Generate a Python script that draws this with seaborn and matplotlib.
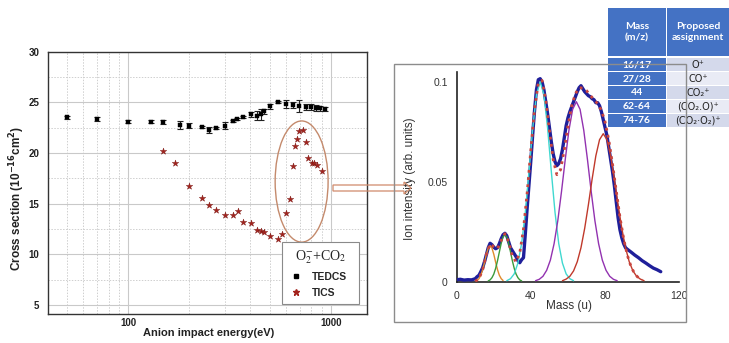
import numpy as np
import pandas as pd
import matplotlib
matplotlib.use("Agg")
import matplotlib.pyplot as plt
import seaborn as sns
from matplotlib.patches import Ellipse, Rectangle, FancyArrow
from matplotlib.lines import Line2D
from matplotlib.ticker import FixedLocator, MultipleLocator, FuncFormatter, NullFormatter
from matplotlib.font_manager import FontProperties

# ---------------- data: left panel (cross sections) ----------------
tedcs_energy = [50, 70, 100, 130, 149, 180, 200, 230, 250, 271, 300, 330, 345, 369,
                401, 430, 450, 469, 500, 545, 600, 647, 698, 753, 797, 843, 883, 934]
tedcs_sigma = [23.55, 23.4, 23.1, 23.1, 23.05, 22.8, 22.7, 22.6, 22.3, 22.5, 22.7, 23.15,
               23.35, 23.6, 23.8, 23.7, 23.8, 24.1, 24.6, 25.0, 24.8, 24.7, 24.6, 24.5,
               24.5, 24.45, 24.4, 24.3]
tedcs_err = [0.15, 0.2, 0.15, 0.15, 0.2, 0.4, 0.25, 0.1, 0.3, 0.1, 0.35, 0.1, 0.1, 0.1,
             0.2, 0.45, 0.5, 0.25, 0.25, 0.1, 0.4, 0.3, 0.6, 0.3, 0.3, 0.3, 0.25, 0.2]

tics_energy = [149, 170, 200, 230, 250, 271, 300, 330, 348, 369, 401, 430, 450, 469, 500,
               550, 571, 600, 628, 647, 665, 680, 698, 731, 753, 773, 804, 826, 849, 900]
tics_sigma = [20.2, 19.0, 16.7, 15.6, 14.9, 14.4, 13.9, 13.85, 14.25, 13.2, 13.05, 12.35,
              12.25, 12.2, 11.8, 11.5, 12.0, 14.05, 15.45, 18.7, 20.7, 21.4, 22.2, 22.3,
              21.1, 19.5, 19.0, 19.0, 18.85, 18.2]

# ---------------- data: right panel (mass spectrum) ----------------
spec_mass = [0, 2, 4, 6, 8, 10, 11, 12, 13, 14, 15, 16, 17, 18, 19, 20, 21, 22, 23, 24, 25,
             26, 27, 28, 29, 30, 31, 32, 33, 34, 35, 36, 37, 38, 39, 40, 41, 42, 43, 44, 45,
             46, 47, 48, 49, 50, 51, 52, 53, 54, 55, 56, 57, 58, 59, 60, 61, 62, 63, 64, 65,
             66, 67, 68, 69, 70, 71, 72, 73, 74, 75, 76, 77, 78, 79, 80, 81, 82, 83, 84, 85,
             86, 87, 88, 89, 90, 91, 92, 94, 96, 98, 100, 102, 104, 106, 108, 110]
spec_int = [0.0010, 0.0012, 0.0008, 0.0010, 0.0009, 0.0015, 0.0025, 0.0032, 0.0050, 0.0070,
            0.0100, 0.0135, 0.0170, 0.0192, 0.0185, 0.0172, 0.0165, 0.0170, 0.0190, 0.0215,
            0.0235, 0.0242, 0.0230, 0.0200, 0.0170, 0.0155, 0.0140, 0.0125, 0.0105, 0.0095,
            0.0110, 0.0120, 0.0240, 0.0370, 0.0490, 0.0610, 0.0740, 0.0860, 0.0960, 0.1010,
            0.1015, 0.1000, 0.0960, 0.0900, 0.0840, 0.0770, 0.0700, 0.0640, 0.0600, 0.0580,
            0.0590, 0.0615, 0.0660, 0.0720, 0.0780, 0.0820, 0.0850, 0.0875, 0.0900, 0.0925,
            0.0950, 0.0970, 0.0980, 0.0965, 0.0950, 0.0940, 0.0930, 0.0925, 0.0915, 0.0910,
            0.0895, 0.0895, 0.0880, 0.0850, 0.0810, 0.0770, 0.0730, 0.0670, 0.0610, 0.0550,
            0.0480, 0.0400, 0.0320, 0.0260, 0.0220, 0.0190, 0.0170, 0.0162, 0.0148, 0.0133,
            0.0120, 0.0105, 0.0093, 0.0080, 0.0068, 0.0060, 0.0050]

fit_mass = [10, 12, 14, 16, 18, 20, 22, 24, 26, 28, 30, 32, 34, 36, 38, 40, 42, 44, 46, 48,
            50, 52, 54, 56, 58, 60, 62, 64, 66, 68, 70, 72, 74, 76, 78, 80, 82, 84, 86, 88,
            90, 92, 94, 96, 98, 100]
fit_int = [0.0002, 0.0015, 0.0060, 0.0137, 0.0189, 0.0175, 0.0165, 0.0207, 0.0240, 0.0200,
           0.0129, 0.0099, 0.0144, 0.0263, 0.0445, 0.0662, 0.0866, 0.0994, 0.1006, 0.0909,
           0.0755, 0.0611, 0.0535, 0.0560, 0.0660, 0.0780, 0.0880, 0.0940, 0.0970, 0.0968,
           0.0955, 0.0932, 0.0910, 0.0890, 0.0857, 0.0799, 0.0708, 0.0588, 0.0455, 0.0323,
           0.0215, 0.0132, 0.0075, 0.0039, 0.0019, 0.0008]

o_mass = [11, 12, 13, 14, 15, 16, 17, 18, 19, 20, 21, 22, 23, 24, 25]
o_int = [0.0006, 0.0015, 0.0032, 0.0060, 0.0097, 0.0137, 0.0168, 0.0180, 0.0168, 0.0137,
         0.0097, 0.0060, 0.0032, 0.0015, 0.0006]
co_mass = [17, 18, 19, 20, 21, 22, 23, 24, 25, 26, 27, 28, 29, 30, 31, 32, 33, 34, 35]
co_int = [0.0004, 0.0009, 0.0020, 0.0038, 0.0067, 0.0105, 0.0149, 0.0192, 0.0224, 0.0235,
          0.0224, 0.0192, 0.0149, 0.0105, 0.0067, 0.0038, 0.0020, 0.0009, 0.0004]
co2_mass = [27, 29, 31, 33, 35, 37, 39, 41, 43, 45, 47, 49, 51, 53, 55, 57, 59, 61, 63]
co2_int = [0.0005, 0.0015, 0.0039, 0.0093, 0.0191, 0.0347, 0.0552, 0.0768, 0.0936, 0.1000,
           0.0936, 0.0768, 0.0552, 0.0347, 0.0191, 0.0093, 0.0039, 0.0015, 0.0005]
co2o_mass = [42.5, 44.5, 46.5, 48.5, 50.5, 52.5, 54.5, 56.5, 58.5, 60.5, 62.5, 64.5, 66.5,
             68.5, 70.5, 72.5, 74.5, 76.5, 78.5, 80.5, 82.5, 84.5, 86.5]
co2o_int = [0.0005, 0.0012, 0.0027, 0.0057, 0.0108, 0.0190, 0.0305, 0.0451, 0.0610, 0.0757,
            0.0862, 0.0900, 0.0862, 0.0757, 0.0610, 0.0451, 0.0305, 0.0190, 0.0108, 0.0057,
            0.0027, 0.0012, 0.0005]
co2o2_mass = [57, 59, 61, 63, 65, 67, 69, 71, 73, 75, 77, 79, 81, 83, 85, 87, 89, 91, 93,
              95, 97, 99, 101]
co2o2_int = [0.0005, 0.0013, 0.0027, 0.0054, 0.0100, 0.0170, 0.0267, 0.0385, 0.0513, 0.0629,
             0.0710, 0.0740, 0.0710, 0.0629, 0.0513, 0.0385, 0.0267, 0.0170, 0.0100, 0.0054,
             0.0027, 0.0013, 0.0005]

# ---------------- data: table ----------------
table_header = ["Mass\n(m/z)", "Proposed\nassignment"]
table_mass = ["16/17", "27/28", "44", "62-64", "74-76"]
table_assign = ["O\u207a", "CO\u207a", "CO\u2082\u207a", "(CO\u2082.O)\u207a",
                "(CO\u2082\u00b7O\u2082)\u207a"]

# ---------------- styling ----------------
sns.set_theme(style="white")
plt.rcParams["font.family"] = ["Liberation Sans", "DejaVu Sans"]
plt.rcParams["axes.linewidth"] = 1.0

W, H = 729, 343
fig = plt.figure(figsize=(W / 100, H / 100), dpi=100)
fig.patch.set_facecolor("white")


def rect(x0, y0, x1, y1):
    return [x0 / W, 1 - y1 / H, (x1 - x0) / W, (y1 - y0) / H]


# ================= left panel =================
ax = fig.add_axes(rect(47.7, 51.7, 366.7, 314))
ax.set_facecolor("white")
ax.set_xscale("log")
ax.set_xlim(40, 1500)
ax.set_ylim(4.1, 30)

ax.xaxis.set_major_locator(FixedLocator([100, 1000]))
ax.xaxis.set_major_formatter(FuncFormatter(lambda v, p: f"{int(v)}"))
minor_x = [m * d for d in (10, 100, 1000) for m in range(2, 10)]
ax.xaxis.set_minor_locator(FixedLocator(minor_x))
ax.xaxis.set_minor_formatter(NullFormatter())
ax.yaxis.set_major_locator(MultipleLocator(5))
ax.yaxis.set_minor_locator(MultipleLocator(2.5))

ax.grid(which="major", color="#c9c9c9", lw=0.8, ls="-")
ax.grid(which="minor", color="#cfcfcf", lw=0.7, ls=(0, (1.5, 1.5)))
ax.set_axisbelow(True)
for s in ax.spines.values():
    s.set_color("#333333")
    s.set_linewidth(1.0)
ax.tick_params(axis="x", which="major", direction="in", length=4, width=0.9,
               labelsize=7, pad=3, colors="#222222")
ax.tick_params(axis="x", which="minor", direction="in", length=2.5, width=0.8)
ax.tick_params(axis="y", which="major", direction="out", length=4, width=0.9,
               labelsize=7, pad=2, colors="#222222")
ax.tick_params(axis="y", which="minor", direction="out", length=2.5, width=0.8)
for lab in ax.get_xticklabels() + ax.get_yticklabels():
    lab.set_fontweight("bold")

tedcs = pd.DataFrame({"E": tedcs_energy, "sigma": tedcs_sigma, "err": tedcs_err})
tics = pd.DataFrame({"E": tics_energy, "sigma": tics_sigma})

ax.errorbar(tedcs["E"], tedcs["sigma"], yerr=tedcs["err"], fmt="none",
            ecolor="#222222", elinewidth=0.8, capsize=2.2, capthick=0.8, zorder=3)
sns.scatterplot(data=tedcs, x="E", y="sigma", ax=ax, marker="s", s=9, color="black",
                edgecolor="black", linewidth=0.3, zorder=4, legend=False)
sns.scatterplot(data=tics, x="E", y="sigma", ax=ax, marker="*", s=24, color="#a3231d",
                edgecolor="#7a1612", linewidth=0.3, zorder=4, legend=False)

ax.set_xlabel("Anion impact energy(eV)", fontsize=8, fontweight="bold", color="#222222")
ax.set_ylabel(r"Cross section (10$^{\mathbf{-16}}$cm$^{\mathbf{2}}$)", fontsize=8.5,
              fontweight="bold", color="#222222")
ax.xaxis.set_label_coords(0.505, -0.055)
ax.yaxis.set_label_coords(-0.065, 0.44)

ell = Ellipse((0.796, 0.505), 0.166, 0.462, transform=ax.transAxes, fill=False,
              edgecolor="#c48a6c", lw=1.0, zorder=5)
ax.add_patch(ell)

handles = [Line2D([], [], marker="s", color="black", ls="none", ms=3),
           Line2D([], [], marker="*", color="#a3231d", ls="none", ms=5)]
leg = ax.legend(handles, ["TEDCS", "TICS"], title=r"O$_2^{-}$+CO$_2$",
                loc="lower left", bbox_to_anchor=(0.733, 0.038, 0.244, 0.225),
                mode="expand", borderaxespad=0,
                frameon=True, fancybox=False, edgecolor="#8a8a8a", framealpha=1,
                prop=FontProperties(family="Liberation Sans", weight="bold", size=7.5),
                handletextpad=0.7, labelspacing=0.55, borderpad=0.6, handlelength=1.6)
leg.get_frame().set_linewidth(0.8)
tt = leg.get_title()
tt.set_fontfamily("Liberation Serif")
tt.set_fontsize(10)
tt.set_math_fontfamily("stix")
leg.set_zorder(10)

# ================= connector arrow =================
arrow = FancyArrow(333 / W, 1 - 188 / H, 78 / W, 0, width=6 / H, head_width=12 / H,
                   head_length=7 / W, length_includes_head=True, transform=fig.transFigure,
                   fill=False, edgecolor="#d08a6b", lw=0.9)
fig.add_artist(arrow)

# ================= right panel frame =================
frame = Rectangle((394.3 / W, 1 - 322.3 / H), 291.7 / W, 258 / H, transform=fig.transFigure,
                  fill=False, edgecolor="#8c8c8c", lw=1.0)
fig.add_artist(frame)

# ================= right panel =================
ax2 = fig.add_axes(rect(456.7, 71.7, 679.3, 281.7))
ax2.set_facecolor("none")
ax2.set_xlim(0, 120)
ax2.set_ylim(0, 0.105)
ax2.spines["top"].set_visible(False)
ax2.spines["right"].set_visible(False)
for s in ("left", "bottom"):
    ax2.spines[s].set_color("#222222")
    ax2.spines[s].set_linewidth(1.2)
ax2.xaxis.set_major_locator(FixedLocator([0, 40, 80, 120]))
ax2.xaxis.set_minor_locator(FixedLocator([20, 60, 100]))
ax2.yaxis.set_major_locator(FixedLocator([0, 0.05, 0.1]))
ax2.yaxis.set_minor_locator(MultipleLocator(0.01))
ax2.yaxis.set_major_formatter(FuncFormatter(lambda v, p: f"{v:g}"))
ax2.tick_params(which="major", direction="out", length=4.5, width=1.1, labelsize=7.5,
                colors="#222222", pad=2)
ax2.tick_params(which="minor", direction="out", length=3, width=1.0)
ax2.tick_params(axis="y", labelcolor="#333333")
ax2.tick_params(axis="x", labelcolor="#333333")

comp_specs = [(o_mass, o_int, "#e08a2c"), (co_mass, co_int, "#3a9a3a"),
              (co2_mass, co2_int, "#40d8d0"), (co2o_mass, co2o_int, "#9232b0"),
              (co2o2_mass, co2o2_int, "#c0392b")]
spec = pd.DataFrame({"mass": spec_mass, "int": spec_int})
sns.lineplot(data=spec, x="mass", y="int", ax=ax2, color="#1f1f9a", lw=2.4, zorder=3)
for mx, iy, col in comp_specs:
    sns.lineplot(x=mx, y=iy, ax=ax2, color=col, lw=1.0, zorder=4)
fit = pd.DataFrame({"mass": fit_mass, "int": fit_int})
sns.lineplot(data=fit, x="mass", y="int", ax=ax2, color="#c9453f", lw=2.0,
             ls=(0, (1, 1.6)), zorder=5)

ax2.set_xlabel("Mass (u)", fontsize=8.5, color="#333333")
ax2.set_ylabel("Ion intensity (arb. units)", fontsize=8.5, color="#333333")
ax2.xaxis.set_label_coords(0.504, -0.085)
ax2.yaxis.set_label_coords(-0.185, 0.49)

# ================= table =================
tab = fig.add_axes(rect(608, 8, 729, 128))
tab.set_xlim(608, 729)
tab.set_ylim(128, 8)
tab.axis("off")
dark = "#4472c4"
lights = ["#d4d9eb", "#e9ebf5", "#d4d9eb", "#e9ebf5", "#d4d9eb"]
tfont = ["Lato", "Liberation Sans", "DejaVu Sans"]
tab.add_patch(Rectangle((608, 8), 58, 48, color=dark, lw=0))
tab.add_patch(Rectangle((667, 8), 62, 48, color=dark, lw=0))
tab.text(637, 32, table_header[0], ha="center", va="center", color="white",
         fontsize=7.5, fontweight="bold", family=tfont, linespacing=1.35)
tab.text(698, 32, table_header[1], ha="center", va="center", color="white",
         fontsize=7.5, fontweight="bold", family=tfont, linespacing=1.35)
for i, (m, a) in enumerate(zip(table_mass, table_assign)):
    y0 = 58 + 14 * i
    tab.add_patch(Rectangle((608, y0), 58, 13, color=dark, lw=0))
    tab.add_patch(Rectangle((667, y0), 62, 13, color=lights[i], lw=0))
    tab.text(637, y0 + 6.8, m, ha="center", va="center", color="white", fontsize=7.5,
             fontweight="bold", family=tfont)
    tab.text(698, y0 + 6.8, a, ha="center", va="center", color="#222222", fontsize=7,
             family=["DejaVu Sans"])

fig.savefig("out.png", dpi=100)
